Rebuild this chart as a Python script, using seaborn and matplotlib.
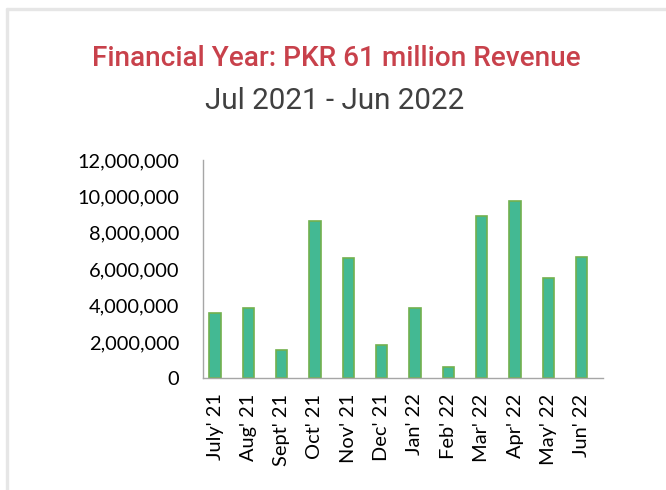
import numpy as np
import matplotlib
matplotlib.use('Agg')
import matplotlib.pyplot as plt
from matplotlib.lines import Line2D
from matplotlib.ticker import FuncFormatter
import seaborn as sns

months = ["July' 21", "Aug' 21", "Sept' 21", "Oct' 21", "Nov' 21", "Dec' 21",
          "Jan' 22", "Feb' 22", "Mar' 22", "Apr' 22", "May' 22", "Jun' 22"]
revenue = [3600000, 3840000, 1540000, 8660000, 6600000, 1850000,
           3840000, 640000, 8900000, 9750000, 5490000, 6690000]
y_ticks = [0, 2000000, 4000000, 6000000, 8000000, 10000000, 12000000]

sns.set_style("white")
plt.rcParams['font.family'] = ['Lato', 'DejaVu Sans']

fig = plt.figure(figsize=(6.66, 4.9), dpi=100)
ax = fig.add_axes([203 / 666, 111.7 / 490, 400 / 666, 218.3 / 490])

sns.barplot(x=months, y=revenue, color='#43b993', width=0.34,
            edgecolor='#72b04e', linewidth=1.2, saturation=1, ax=ax)

ax.set_xlim(-0.36, 11.64)
ax.set_ylim(0, 12000000)
ax.set_yticks(y_ticks)
ax.yaxis.set_major_formatter(FuncFormatter(lambda v, p: f"{int(v):,}"))
ax.tick_params(axis='y', length=0, pad=17, labelsize=14.4, labelcolor='#000000')
ax.tick_params(axis='x', length=0, pad=11, labelsize=14.4, labelcolor='#000000',
               labelrotation=90)

for s in ['top', 'right']:
    ax.spines[s].set_visible(False)
for s in ['left', 'bottom']:
    ax.spines[s].set_color('#a6a6a6')
    ax.spines[s].set_linewidth(1.0)

fig.text(336.5 / 666, (490 - 66) / 490, "Financial Year: PKR 61 million Revenue",
         ha='center', va='baseline', fontsize=20.2, color='#c8414b',
         fontweight='medium', family=['Roboto', 'DejaVu Sans'])
fig.text(335 / 666, (490 - 109) / 490, "Jul 2021 - Jun 2022",
         ha='center', va='baseline', fontsize=21.3, color='#404040',
         family=['Roboto', 'DejaVu Sans'])

# light grey card border (top and left edges)
fig.add_artist(Line2D([6.5 / 666, 1.0], [(490 - 9) / 490, (490 - 9) / 490],
                      transform=fig.transFigure, color='#e6e6e6', linewidth=2.4))
fig.add_artist(Line2D([6.5 / 666, 6.5 / 666], [0.0, (490 - 9) / 490],
                      transform=fig.transFigure, color='#e6e6e6', linewidth=2.4))

plt.savefig('out.png', dpi=100)
plt.close()
